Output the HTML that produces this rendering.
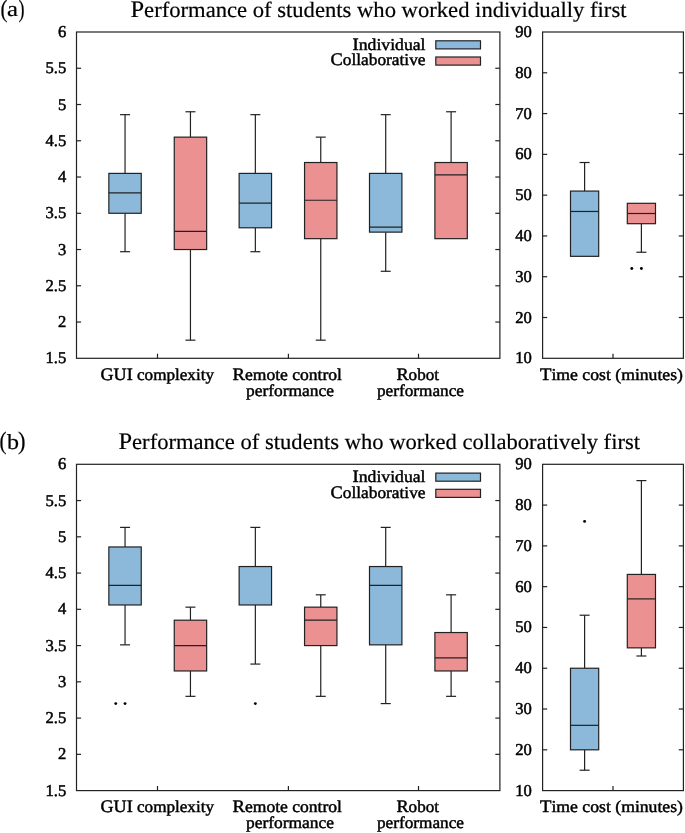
<!DOCTYPE html>
<html><head><meta charset="utf-8"><style>
html,body{margin:0;padding:0;background:#fff;}
body{width:685px;height:833px;overflow:hidden;}
svg{display:block;}
text{font-family:"Liberation Serif", serif;fill:#000;stroke:#000;stroke-width:0.45px;text-rendering:geometricPrecision;}
svg{will-change:transform;}
.tk{stroke-width:0.5px;}
.tt{stroke-width:0.2px;}
</style></head><body>
<svg width="685" height="833" viewBox="0 0 685 833">
<rect width="685" height="833" fill="#fff"/>
<text class="tt" x="0.5" y="16.9" font-size="25.0" text-anchor="start" textLength="7" lengthAdjust="spacingAndGlyphs">(</text>
<text class="tt" x="7" y="16.4" font-size="21.5" text-anchor="start" textLength="11" lengthAdjust="spacingAndGlyphs">a</text>
<text class="tt" x="18.5" y="16.9" font-size="25.0" text-anchor="start" textLength="6" lengthAdjust="spacingAndGlyphs">)</text>
<text class="tt" x="130.5" y="16.6" font-size="22.0" text-anchor="start" textLength="496" lengthAdjust="spacingAndGlyphs"><tspan font-size="23.8">P</tspan>erformance of students who worked individually first</text>
<rect x="76.5" y="32" width="423.4" height="326.3" fill="none" stroke="#222" stroke-width="1.2"/>
<text class="tk" x="66.3" y="363.3" font-size="16.6" text-anchor="end">1.5</text>
<line x1="76.5" y1="322.04" x2="81.1" y2="322.04" stroke="#222" stroke-width="1.2"/>
<line x1="499.9" y1="322.04" x2="495.3" y2="322.04" stroke="#222" stroke-width="1.2"/>
<text class="tk" x="66.3" y="327.04" font-size="16.6" text-anchor="end">2</text>
<line x1="76.5" y1="285.79" x2="81.1" y2="285.79" stroke="#222" stroke-width="1.2"/>
<line x1="499.9" y1="285.79" x2="495.3" y2="285.79" stroke="#222" stroke-width="1.2"/>
<text class="tk" x="66.3" y="290.79" font-size="16.6" text-anchor="end">2.5</text>
<line x1="76.5" y1="249.53" x2="81.1" y2="249.53" stroke="#222" stroke-width="1.2"/>
<line x1="499.9" y1="249.53" x2="495.3" y2="249.53" stroke="#222" stroke-width="1.2"/>
<text class="tk" x="66.3" y="254.53" font-size="16.6" text-anchor="end">3</text>
<line x1="76.5" y1="213.28" x2="81.1" y2="213.28" stroke="#222" stroke-width="1.2"/>
<line x1="499.9" y1="213.28" x2="495.3" y2="213.28" stroke="#222" stroke-width="1.2"/>
<text class="tk" x="66.3" y="218.28" font-size="16.6" text-anchor="end">3.5</text>
<line x1="76.5" y1="177.02" x2="81.1" y2="177.02" stroke="#222" stroke-width="1.2"/>
<line x1="499.9" y1="177.02" x2="495.3" y2="177.02" stroke="#222" stroke-width="1.2"/>
<text class="tk" x="66.3" y="182.02" font-size="16.6" text-anchor="end">4</text>
<line x1="76.5" y1="140.77" x2="81.1" y2="140.77" stroke="#222" stroke-width="1.2"/>
<line x1="499.9" y1="140.77" x2="495.3" y2="140.77" stroke="#222" stroke-width="1.2"/>
<text class="tk" x="66.3" y="145.77" font-size="16.6" text-anchor="end">4.5</text>
<line x1="76.5" y1="104.51" x2="81.1" y2="104.51" stroke="#222" stroke-width="1.2"/>
<line x1="499.9" y1="104.51" x2="495.3" y2="104.51" stroke="#222" stroke-width="1.2"/>
<text class="tk" x="66.3" y="109.51" font-size="16.6" text-anchor="end">5</text>
<line x1="76.5" y1="68.26" x2="81.1" y2="68.26" stroke="#222" stroke-width="1.2"/>
<line x1="499.9" y1="68.26" x2="495.3" y2="68.26" stroke="#222" stroke-width="1.2"/>
<text class="tk" x="66.3" y="73.26" font-size="16.6" text-anchor="end">5.5</text>
<text class="tk" x="66.3" y="37" font-size="16.6" text-anchor="end">6</text>
<line x1="157.5" y1="358.3" x2="157.5" y2="353.7" stroke="#222" stroke-width="1.2"/>
<line x1="288.4" y1="358.3" x2="288.4" y2="353.7" stroke="#222" stroke-width="1.2"/>
<line x1="418.5" y1="358.3" x2="418.5" y2="353.7" stroke="#222" stroke-width="1.2"/>
<text x="100.5" y="379.9" font-size="16.6" text-anchor="start" textLength="113.5" lengthAdjust="spacingAndGlyphs"><tspan font-size="17.6">G</tspan><tspan font-size="17.6">U</tspan><tspan font-size="17.6">I</tspan> complexity</text>
<text x="232.5" y="379.9" font-size="16.6" text-anchor="start" textLength="109.5" lengthAdjust="spacingAndGlyphs"><tspan font-size="17.6">R</tspan>emote control</text>
<text x="246" y="395.7" font-size="16.6" text-anchor="start" textLength="88" lengthAdjust="spacingAndGlyphs">performance</text>
<text x="396.5" y="379.9" font-size="16.6" text-anchor="start" textLength="42.5" lengthAdjust="spacingAndGlyphs"><tspan font-size="17.6">R</tspan>obot</text>
<text x="377" y="395.7" font-size="16.6" text-anchor="start" textLength="87" lengthAdjust="spacingAndGlyphs">performance</text>
<text x="352.5" y="49.8" font-size="16.6" text-anchor="start" textLength="73" lengthAdjust="spacingAndGlyphs"><tspan font-size="17.6">I</tspan>ndividual</text>
<text x="330.5" y="65.3" font-size="16.6" text-anchor="start" textLength="95" lengthAdjust="spacingAndGlyphs"><tspan font-size="17.6">C</tspan>ollaborative</text>
<rect x="435.8" y="40.8" width="44.7" height="8.1" fill="#8cb8d9" stroke="#222" stroke-width="1.2"/>
<rect x="435.8" y="57" width="44.7" height="8.1" fill="#ec9192" stroke="#222" stroke-width="1.2"/>
<line x1="125.05" y1="114.66" x2="125.05" y2="173.4" stroke="#222" stroke-width="1.2"/>
<line x1="120.05" y1="114.66" x2="130.05" y2="114.66" stroke="#222" stroke-width="1.2"/>
<line x1="125.05" y1="213.28" x2="125.05" y2="251.71" stroke="#222" stroke-width="1.2"/>
<line x1="120.05" y1="251.71" x2="130.05" y2="251.71" stroke="#222" stroke-width="1.2"/>
<rect x="108.85" y="173.4" width="32.4" height="39.88" fill="#8cb8d9" stroke="#222" stroke-width="1.2"/>
<line x1="108.85" y1="192.97" x2="141.25" y2="192.97" stroke="#222" stroke-width="1.2"/>
<line x1="190.45" y1="111.76" x2="190.45" y2="137.14" stroke="#222" stroke-width="1.2"/>
<line x1="185.45" y1="111.76" x2="195.45" y2="111.76" stroke="#222" stroke-width="1.2"/>
<line x1="190.45" y1="249.53" x2="190.45" y2="340.17" stroke="#222" stroke-width="1.2"/>
<line x1="185.45" y1="340.17" x2="195.45" y2="340.17" stroke="#222" stroke-width="1.2"/>
<rect x="174.25" y="137.14" width="32.4" height="112.39" fill="#ec9192" stroke="#222" stroke-width="1.2"/>
<line x1="174.25" y1="231.41" x2="206.65" y2="231.41" stroke="#222" stroke-width="1.2"/>
<line x1="255.35" y1="114.66" x2="255.35" y2="173.4" stroke="#222" stroke-width="1.2"/>
<line x1="250.35" y1="114.66" x2="260.35" y2="114.66" stroke="#222" stroke-width="1.2"/>
<line x1="255.35" y1="227.78" x2="255.35" y2="251.71" stroke="#222" stroke-width="1.2"/>
<line x1="250.35" y1="251.71" x2="260.35" y2="251.71" stroke="#222" stroke-width="1.2"/>
<rect x="239.15" y="173.4" width="32.4" height="54.38" fill="#8cb8d9" stroke="#222" stroke-width="1.2"/>
<line x1="239.15" y1="203.13" x2="271.55" y2="203.13" stroke="#222" stroke-width="1.2"/>
<line x1="320.75" y1="137.14" x2="320.75" y2="162.52" stroke="#222" stroke-width="1.2"/>
<line x1="315.75" y1="137.14" x2="325.75" y2="137.14" stroke="#222" stroke-width="1.2"/>
<line x1="320.75" y1="238.66" x2="320.75" y2="340.17" stroke="#222" stroke-width="1.2"/>
<line x1="315.75" y1="340.17" x2="325.75" y2="340.17" stroke="#222" stroke-width="1.2"/>
<rect x="304.55" y="162.52" width="32.4" height="76.14" fill="#ec9192" stroke="#222" stroke-width="1.2"/>
<line x1="304.55" y1="200.23" x2="336.95" y2="200.23" stroke="#222" stroke-width="1.2"/>
<line x1="385.7" y1="114.66" x2="385.7" y2="173.4" stroke="#222" stroke-width="1.2"/>
<line x1="380.7" y1="114.66" x2="390.7" y2="114.66" stroke="#222" stroke-width="1.2"/>
<line x1="385.7" y1="232.13" x2="385.7" y2="271.29" stroke="#222" stroke-width="1.2"/>
<line x1="380.7" y1="271.29" x2="390.7" y2="271.29" stroke="#222" stroke-width="1.2"/>
<rect x="369.5" y="173.4" width="32.4" height="58.73" fill="#8cb8d9" stroke="#222" stroke-width="1.2"/>
<line x1="369.5" y1="227.05" x2="401.9" y2="227.05" stroke="#222" stroke-width="1.2"/>
<line x1="451.1" y1="111.76" x2="451.1" y2="162.52" stroke="#222" stroke-width="1.2"/>
<line x1="446.1" y1="111.76" x2="456.1" y2="111.76" stroke="#222" stroke-width="1.2"/>
<rect x="434.9" y="162.52" width="32.4" height="76.14" fill="#ec9192" stroke="#222" stroke-width="1.2"/>
<line x1="434.9" y1="174.85" x2="467.3" y2="174.85" stroke="#222" stroke-width="1.2"/>
<rect x="542.6" y="32" width="140.8" height="326.3" fill="none" stroke="#222" stroke-width="1.2"/>
<text class="tk" x="531.8" y="363.3" font-size="16.6" text-anchor="end">10</text>
<line x1="542.6" y1="317.51" x2="547.2" y2="317.51" stroke="#222" stroke-width="1.2"/>
<line x1="683.4" y1="317.51" x2="678.8" y2="317.51" stroke="#222" stroke-width="1.2"/>
<text class="tk" x="531.8" y="322.51" font-size="16.6" text-anchor="end">20</text>
<line x1="542.6" y1="276.73" x2="547.2" y2="276.73" stroke="#222" stroke-width="1.2"/>
<line x1="683.4" y1="276.73" x2="678.8" y2="276.73" stroke="#222" stroke-width="1.2"/>
<text class="tk" x="531.8" y="281.73" font-size="16.6" text-anchor="end">30</text>
<line x1="542.6" y1="235.94" x2="547.2" y2="235.94" stroke="#222" stroke-width="1.2"/>
<line x1="683.4" y1="235.94" x2="678.8" y2="235.94" stroke="#222" stroke-width="1.2"/>
<text class="tk" x="531.8" y="240.94" font-size="16.6" text-anchor="end">40</text>
<line x1="542.6" y1="195.15" x2="547.2" y2="195.15" stroke="#222" stroke-width="1.2"/>
<line x1="683.4" y1="195.15" x2="678.8" y2="195.15" stroke="#222" stroke-width="1.2"/>
<text class="tk" x="531.8" y="200.15" font-size="16.6" text-anchor="end">50</text>
<line x1="542.6" y1="154.36" x2="547.2" y2="154.36" stroke="#222" stroke-width="1.2"/>
<line x1="683.4" y1="154.36" x2="678.8" y2="154.36" stroke="#222" stroke-width="1.2"/>
<text class="tk" x="531.8" y="159.36" font-size="16.6" text-anchor="end">60</text>
<line x1="542.6" y1="113.58" x2="547.2" y2="113.58" stroke="#222" stroke-width="1.2"/>
<line x1="683.4" y1="113.58" x2="678.8" y2="113.58" stroke="#222" stroke-width="1.2"/>
<text class="tk" x="531.8" y="118.58" font-size="16.6" text-anchor="end">70</text>
<line x1="542.6" y1="72.79" x2="547.2" y2="72.79" stroke="#222" stroke-width="1.2"/>
<line x1="683.4" y1="72.79" x2="678.8" y2="72.79" stroke="#222" stroke-width="1.2"/>
<text class="tk" x="531.8" y="77.79" font-size="16.6" text-anchor="end">80</text>
<text class="tk" x="531.8" y="37" font-size="16.6" text-anchor="end">90</text>
<line x1="613" y1="358.3" x2="613" y2="353.7" stroke="#222" stroke-width="1.2"/>
<text x="540" y="379.9" font-size="16.6" text-anchor="start" textLength="143" lengthAdjust="spacingAndGlyphs"><tspan font-size="17.6">T</tspan>ime cost (minutes)</text>
<line x1="584.6" y1="162.52" x2="584.6" y2="191.07" stroke="#222" stroke-width="1.2"/>
<line x1="579.6" y1="162.52" x2="589.6" y2="162.52" stroke="#222" stroke-width="1.2"/>
<rect x="570.5" y="191.07" width="28.2" height="65.26" fill="#8cb8d9" stroke="#222" stroke-width="1.2"/>
<line x1="570.5" y1="211.47" x2="598.7" y2="211.47" stroke="#222" stroke-width="1.2"/>
<line x1="641.4" y1="223.7" x2="641.4" y2="252.25" stroke="#222" stroke-width="1.2"/>
<line x1="636.4" y1="252.25" x2="646.4" y2="252.25" stroke="#222" stroke-width="1.2"/>
<rect x="627.3" y="203.31" width="28.2" height="20.39" fill="#ec9192" stroke="#222" stroke-width="1.2"/>
<line x1="627.3" y1="213.5" x2="655.5" y2="213.5" stroke="#222" stroke-width="1.2"/>
<circle cx="631.8" cy="268.57" r="1.45" fill="#000"/>
<circle cx="641.4" cy="268.57" r="1.45" fill="#000"/>
<text class="tt" x="-0.5" y="449.2" font-size="25.0" text-anchor="start" textLength="7" lengthAdjust="spacingAndGlyphs">(</text>
<text class="tt" x="7" y="448.7" font-size="21.5" text-anchor="start" textLength="12" lengthAdjust="spacingAndGlyphs">b</text>
<text class="tt" x="18" y="449.2" font-size="25.0" text-anchor="start" textLength="7.5" lengthAdjust="spacingAndGlyphs">)</text>
<text class="tt" x="118.5" y="448.9" font-size="22.0" text-anchor="start" textLength="521.5" lengthAdjust="spacingAndGlyphs"><tspan font-size="23.8">P</tspan>erformance of students who worked collaboratively first</text>
<rect x="76.5" y="464.3" width="423.4" height="326.3" fill="none" stroke="#222" stroke-width="1.2"/>
<text class="tk" x="66.3" y="795.6" font-size="16.6" text-anchor="end">1.5</text>
<line x1="76.5" y1="754.34" x2="81.1" y2="754.34" stroke="#222" stroke-width="1.2"/>
<line x1="499.9" y1="754.34" x2="495.3" y2="754.34" stroke="#222" stroke-width="1.2"/>
<text class="tk" x="66.3" y="759.34" font-size="16.6" text-anchor="end">2</text>
<line x1="76.5" y1="718.09" x2="81.1" y2="718.09" stroke="#222" stroke-width="1.2"/>
<line x1="499.9" y1="718.09" x2="495.3" y2="718.09" stroke="#222" stroke-width="1.2"/>
<text class="tk" x="66.3" y="723.09" font-size="16.6" text-anchor="end">2.5</text>
<line x1="76.5" y1="681.83" x2="81.1" y2="681.83" stroke="#222" stroke-width="1.2"/>
<line x1="499.9" y1="681.83" x2="495.3" y2="681.83" stroke="#222" stroke-width="1.2"/>
<text class="tk" x="66.3" y="686.83" font-size="16.6" text-anchor="end">3</text>
<line x1="76.5" y1="645.58" x2="81.1" y2="645.58" stroke="#222" stroke-width="1.2"/>
<line x1="499.9" y1="645.58" x2="495.3" y2="645.58" stroke="#222" stroke-width="1.2"/>
<text class="tk" x="66.3" y="650.58" font-size="16.6" text-anchor="end">3.5</text>
<line x1="76.5" y1="609.32" x2="81.1" y2="609.32" stroke="#222" stroke-width="1.2"/>
<line x1="499.9" y1="609.32" x2="495.3" y2="609.32" stroke="#222" stroke-width="1.2"/>
<text class="tk" x="66.3" y="614.32" font-size="16.6" text-anchor="end">4</text>
<line x1="76.5" y1="573.07" x2="81.1" y2="573.07" stroke="#222" stroke-width="1.2"/>
<line x1="499.9" y1="573.07" x2="495.3" y2="573.07" stroke="#222" stroke-width="1.2"/>
<text class="tk" x="66.3" y="578.07" font-size="16.6" text-anchor="end">4.5</text>
<line x1="76.5" y1="536.81" x2="81.1" y2="536.81" stroke="#222" stroke-width="1.2"/>
<line x1="499.9" y1="536.81" x2="495.3" y2="536.81" stroke="#222" stroke-width="1.2"/>
<text class="tk" x="66.3" y="541.81" font-size="16.6" text-anchor="end">5</text>
<line x1="76.5" y1="500.56" x2="81.1" y2="500.56" stroke="#222" stroke-width="1.2"/>
<line x1="499.9" y1="500.56" x2="495.3" y2="500.56" stroke="#222" stroke-width="1.2"/>
<text class="tk" x="66.3" y="505.56" font-size="16.6" text-anchor="end">5.5</text>
<text class="tk" x="66.3" y="469.3" font-size="16.6" text-anchor="end">6</text>
<line x1="157.5" y1="790.6" x2="157.5" y2="786" stroke="#222" stroke-width="1.2"/>
<line x1="288.4" y1="790.6" x2="288.4" y2="786" stroke="#222" stroke-width="1.2"/>
<line x1="418.5" y1="790.6" x2="418.5" y2="786" stroke="#222" stroke-width="1.2"/>
<text x="100.5" y="812.2" font-size="16.6" text-anchor="start" textLength="113.5" lengthAdjust="spacingAndGlyphs"><tspan font-size="17.6">G</tspan><tspan font-size="17.6">U</tspan><tspan font-size="17.6">I</tspan> complexity</text>
<text x="232.5" y="812.2" font-size="16.6" text-anchor="start" textLength="109.5" lengthAdjust="spacingAndGlyphs"><tspan font-size="17.6">R</tspan>emote control</text>
<text x="246" y="828" font-size="16.6" text-anchor="start" textLength="88" lengthAdjust="spacingAndGlyphs">performance</text>
<text x="396.5" y="812.2" font-size="16.6" text-anchor="start" textLength="42.5" lengthAdjust="spacingAndGlyphs"><tspan font-size="17.6">R</tspan>obot</text>
<text x="377" y="828" font-size="16.6" text-anchor="start" textLength="87" lengthAdjust="spacingAndGlyphs">performance</text>
<text x="352.5" y="482.1" font-size="16.6" text-anchor="start" textLength="73" lengthAdjust="spacingAndGlyphs"><tspan font-size="17.6">I</tspan>ndividual</text>
<text x="330.5" y="497.6" font-size="16.6" text-anchor="start" textLength="95" lengthAdjust="spacingAndGlyphs"><tspan font-size="17.6">C</tspan>ollaborative</text>
<rect x="435.8" y="473.1" width="44.7" height="8.1" fill="#8cb8d9" stroke="#222" stroke-width="1.2"/>
<rect x="435.8" y="489.3" width="44.7" height="8.1" fill="#ec9192" stroke="#222" stroke-width="1.2"/>
<line x1="125.05" y1="527.38" x2="125.05" y2="546.96" stroke="#222" stroke-width="1.2"/>
<line x1="120.05" y1="527.38" x2="130.05" y2="527.38" stroke="#222" stroke-width="1.2"/>
<line x1="125.05" y1="604.97" x2="125.05" y2="644.85" stroke="#222" stroke-width="1.2"/>
<line x1="120.05" y1="644.85" x2="130.05" y2="644.85" stroke="#222" stroke-width="1.2"/>
<rect x="108.85" y="546.96" width="32.4" height="58.01" fill="#8cb8d9" stroke="#222" stroke-width="1.2"/>
<line x1="108.85" y1="585.39" x2="141.25" y2="585.39" stroke="#222" stroke-width="1.2"/>
<circle cx="115.75" cy="703.59" r="1.45" fill="#000"/>
<circle cx="125.05" cy="703.59" r="1.45" fill="#000"/>
<line x1="190.45" y1="607.15" x2="190.45" y2="620.2" stroke="#222" stroke-width="1.2"/>
<line x1="185.45" y1="607.15" x2="195.45" y2="607.15" stroke="#222" stroke-width="1.2"/>
<line x1="190.45" y1="670.96" x2="190.45" y2="696.34" stroke="#222" stroke-width="1.2"/>
<line x1="185.45" y1="696.34" x2="195.45" y2="696.34" stroke="#222" stroke-width="1.2"/>
<rect x="174.25" y="620.2" width="32.4" height="50.76" fill="#ec9192" stroke="#222" stroke-width="1.2"/>
<line x1="174.25" y1="645.58" x2="206.65" y2="645.58" stroke="#222" stroke-width="1.2"/>
<line x1="255.35" y1="527.38" x2="255.35" y2="566.54" stroke="#222" stroke-width="1.2"/>
<line x1="250.35" y1="527.38" x2="260.35" y2="527.38" stroke="#222" stroke-width="1.2"/>
<line x1="255.35" y1="604.97" x2="255.35" y2="664.07" stroke="#222" stroke-width="1.2"/>
<line x1="250.35" y1="664.07" x2="260.35" y2="664.07" stroke="#222" stroke-width="1.2"/>
<rect x="239.15" y="566.54" width="32.4" height="38.43" fill="#8cb8d9" stroke="#222" stroke-width="1.2"/>
<circle cx="255.35" cy="703.59" r="1.45" fill="#000"/>
<line x1="320.75" y1="594.82" x2="320.75" y2="607.15" stroke="#222" stroke-width="1.2"/>
<line x1="315.75" y1="594.82" x2="325.75" y2="594.82" stroke="#222" stroke-width="1.2"/>
<line x1="320.75" y1="645.58" x2="320.75" y2="696.34" stroke="#222" stroke-width="1.2"/>
<line x1="315.75" y1="696.34" x2="325.75" y2="696.34" stroke="#222" stroke-width="1.2"/>
<rect x="304.55" y="607.15" width="32.4" height="38.43" fill="#ec9192" stroke="#222" stroke-width="1.2"/>
<line x1="304.55" y1="620.2" x2="336.95" y2="620.2" stroke="#222" stroke-width="1.2"/>
<line x1="385.7" y1="527.38" x2="385.7" y2="566.54" stroke="#222" stroke-width="1.2"/>
<line x1="380.7" y1="527.38" x2="390.7" y2="527.38" stroke="#222" stroke-width="1.2"/>
<line x1="385.7" y1="644.85" x2="385.7" y2="703.59" stroke="#222" stroke-width="1.2"/>
<line x1="380.7" y1="703.59" x2="390.7" y2="703.59" stroke="#222" stroke-width="1.2"/>
<rect x="369.5" y="566.54" width="32.4" height="78.31" fill="#8cb8d9" stroke="#222" stroke-width="1.2"/>
<line x1="369.5" y1="585.39" x2="401.9" y2="585.39" stroke="#222" stroke-width="1.2"/>
<line x1="451.1" y1="594.82" x2="451.1" y2="632.53" stroke="#222" stroke-width="1.2"/>
<line x1="446.1" y1="594.82" x2="456.1" y2="594.82" stroke="#222" stroke-width="1.2"/>
<line x1="451.1" y1="670.96" x2="451.1" y2="696.34" stroke="#222" stroke-width="1.2"/>
<line x1="446.1" y1="696.34" x2="456.1" y2="696.34" stroke="#222" stroke-width="1.2"/>
<rect x="434.9" y="632.53" width="32.4" height="38.43" fill="#ec9192" stroke="#222" stroke-width="1.2"/>
<line x1="434.9" y1="657.9" x2="467.3" y2="657.9" stroke="#222" stroke-width="1.2"/>
<rect x="542.6" y="464.3" width="140.8" height="326.3" fill="none" stroke="#222" stroke-width="1.2"/>
<text class="tk" x="531.8" y="795.6" font-size="16.6" text-anchor="end">10</text>
<line x1="542.6" y1="749.81" x2="547.2" y2="749.81" stroke="#222" stroke-width="1.2"/>
<line x1="683.4" y1="749.81" x2="678.8" y2="749.81" stroke="#222" stroke-width="1.2"/>
<text class="tk" x="531.8" y="754.81" font-size="16.6" text-anchor="end">20</text>
<line x1="542.6" y1="709.02" x2="547.2" y2="709.02" stroke="#222" stroke-width="1.2"/>
<line x1="683.4" y1="709.02" x2="678.8" y2="709.02" stroke="#222" stroke-width="1.2"/>
<text class="tk" x="531.8" y="714.02" font-size="16.6" text-anchor="end">30</text>
<line x1="542.6" y1="668.24" x2="547.2" y2="668.24" stroke="#222" stroke-width="1.2"/>
<line x1="683.4" y1="668.24" x2="678.8" y2="668.24" stroke="#222" stroke-width="1.2"/>
<text class="tk" x="531.8" y="673.24" font-size="16.6" text-anchor="end">40</text>
<line x1="542.6" y1="627.45" x2="547.2" y2="627.45" stroke="#222" stroke-width="1.2"/>
<line x1="683.4" y1="627.45" x2="678.8" y2="627.45" stroke="#222" stroke-width="1.2"/>
<text class="tk" x="531.8" y="632.45" font-size="16.6" text-anchor="end">50</text>
<line x1="542.6" y1="586.66" x2="547.2" y2="586.66" stroke="#222" stroke-width="1.2"/>
<line x1="683.4" y1="586.66" x2="678.8" y2="586.66" stroke="#222" stroke-width="1.2"/>
<text class="tk" x="531.8" y="591.66" font-size="16.6" text-anchor="end">60</text>
<line x1="542.6" y1="545.88" x2="547.2" y2="545.88" stroke="#222" stroke-width="1.2"/>
<line x1="683.4" y1="545.88" x2="678.8" y2="545.88" stroke="#222" stroke-width="1.2"/>
<text class="tk" x="531.8" y="550.88" font-size="16.6" text-anchor="end">70</text>
<line x1="542.6" y1="505.09" x2="547.2" y2="505.09" stroke="#222" stroke-width="1.2"/>
<line x1="683.4" y1="505.09" x2="678.8" y2="505.09" stroke="#222" stroke-width="1.2"/>
<text class="tk" x="531.8" y="510.09" font-size="16.6" text-anchor="end">80</text>
<text class="tk" x="531.8" y="469.3" font-size="16.6" text-anchor="end">90</text>
<line x1="613" y1="790.6" x2="613" y2="786" stroke="#222" stroke-width="1.2"/>
<text x="540" y="812.2" font-size="16.6" text-anchor="start" textLength="143" lengthAdjust="spacingAndGlyphs"><tspan font-size="17.6">T</tspan>ime cost (minutes)</text>
<line x1="584.6" y1="615.21" x2="584.6" y2="668.24" stroke="#222" stroke-width="1.2"/>
<line x1="579.6" y1="615.21" x2="589.6" y2="615.21" stroke="#222" stroke-width="1.2"/>
<line x1="584.6" y1="749.81" x2="584.6" y2="770.21" stroke="#222" stroke-width="1.2"/>
<line x1="579.6" y1="770.21" x2="589.6" y2="770.21" stroke="#222" stroke-width="1.2"/>
<rect x="570.5" y="668.24" width="28.2" height="81.57" fill="#8cb8d9" stroke="#222" stroke-width="1.2"/>
<line x1="570.5" y1="725.34" x2="598.7" y2="725.34" stroke="#222" stroke-width="1.2"/>
<circle cx="584.6" cy="521.4" r="1.45" fill="#000"/>
<line x1="641.4" y1="480.62" x2="641.4" y2="574.43" stroke="#222" stroke-width="1.2"/>
<line x1="636.4" y1="480.62" x2="646.4" y2="480.62" stroke="#222" stroke-width="1.2"/>
<line x1="641.4" y1="647.84" x2="641.4" y2="656" stroke="#222" stroke-width="1.2"/>
<line x1="636.4" y1="656" x2="646.4" y2="656" stroke="#222" stroke-width="1.2"/>
<rect x="627.3" y="574.43" width="28.2" height="73.42" fill="#ec9192" stroke="#222" stroke-width="1.2"/>
<line x1="627.3" y1="598.9" x2="655.5" y2="598.9" stroke="#222" stroke-width="1.2"/>
</svg>
</body></html>
